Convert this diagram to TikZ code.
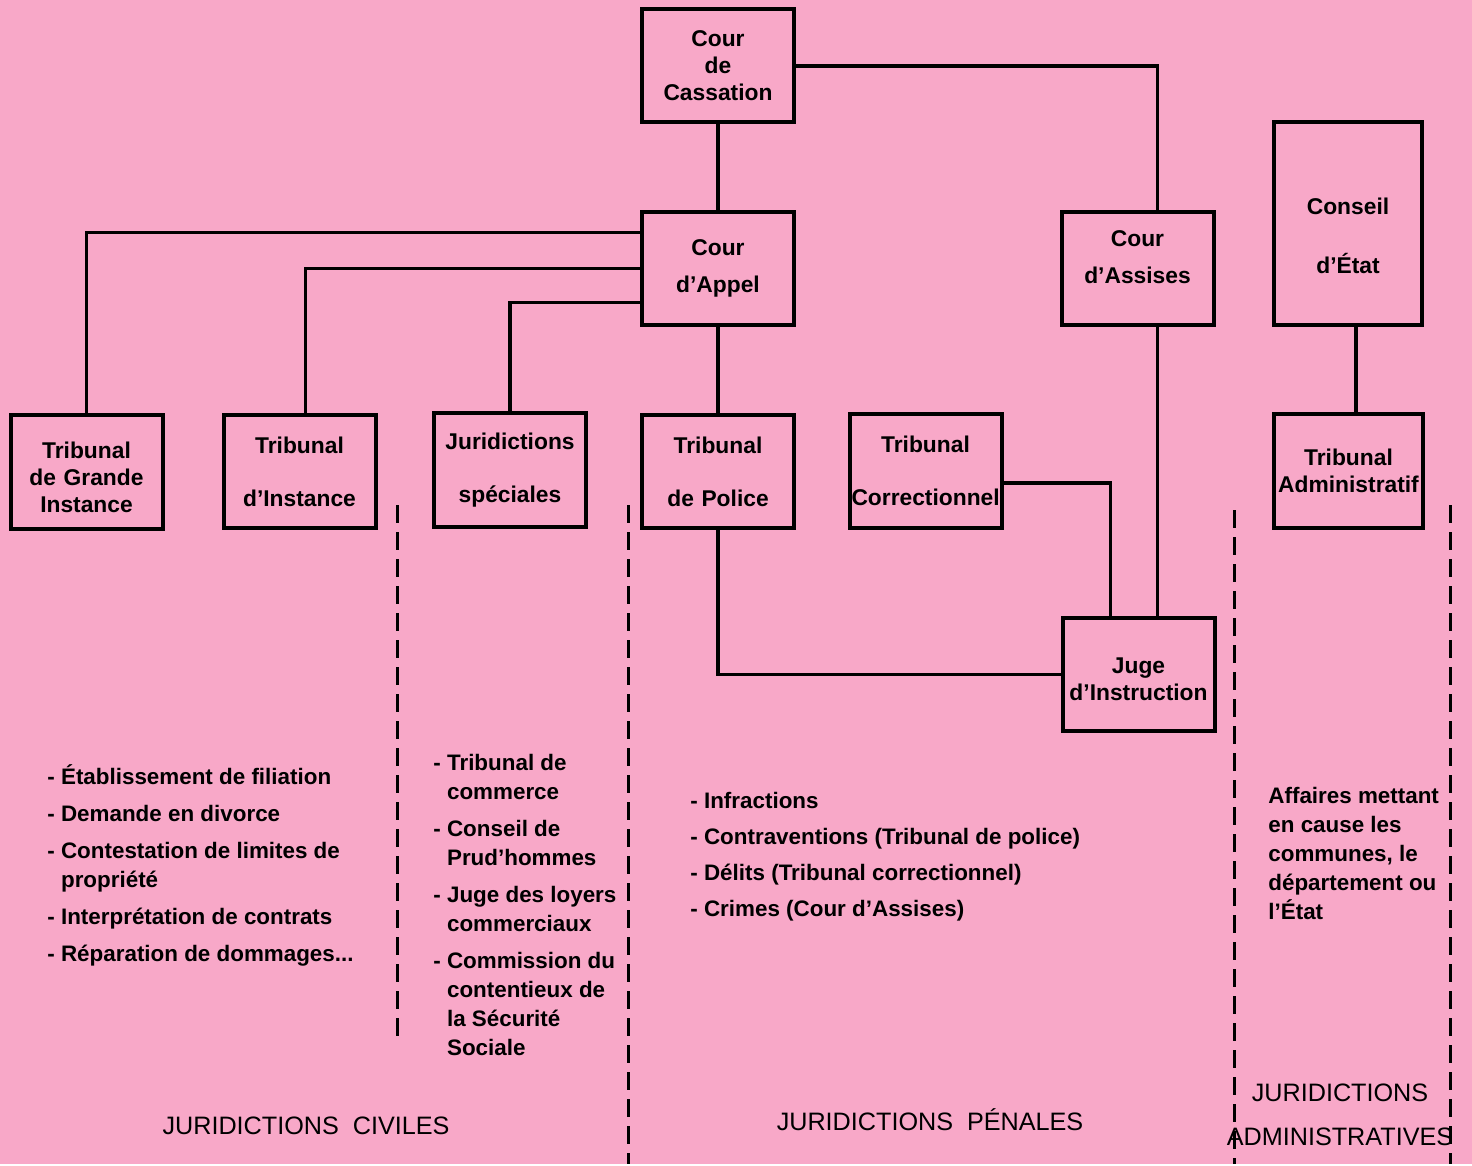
\documentclass[tikz,border=0pt]{standalone}
\usepackage{fontspec}
\setmainfont{Liberation Sans}
\usepackage{tikz}
\usetikzlibrary{positioning}
\definecolor{pinkpaper}{RGB}{248,168,200}
\tikzstyle{court} = [rectangle, draw=black, line width=2pt, minimum height=56.5pt, text width=74pt, inner xsep=1pt, inner ysep=0pt, align=center, font=\bfseries\fontsize{11.4}{13.5}\selectfont]
\tikzstyle{link} = [line width=1.8pt, draw=black]
\tikzstyle{border} = [line width=1.5pt, dash pattern=on 9pt off 4.5pt]
\tikzstyle{caselist} = [anchor=north west, align=left, inner sep=0pt, font=\bfseries\fontsize{11.2}{14.5}\selectfont]
\tikzstyle{heading} = [align=center, inner sep=0pt, font=\fontsize{12.6}{14}\selectfont]

\begin{document}
\begin{tikzpicture}[x=0.5pt, y=-0.5pt]

\fill[pinkpaper] (0,0) rectangle (1472,1164);

\node[court] (cassation) at (718,66) {Cour\\de\\Cassation};
\node[court] (appel) at (718,268.5) {Cour\\[5pt]d’Appel};
\node[court] (assises) at (1137.5,269) {Cour\\[5pt]d’Assises\rule[-12pt]{0pt}{12pt}};
\node[court, minimum height=101.5pt, text width=72pt] (conseil) at (1348,223.5) {\rule{0pt}{21pt}Conseil\\[16pt]d’État};

\node[court] (tgi) at (86.5,472) {\rule{0pt}{14pt}Tribunal\\de Grande\\Instance};
\node[court] (ti) at (299.5,471.5) {Tribunal\\[13pt]d’Instance};
\node[court] (speciales) at (510,470) {Juridictions\\[13pt]spéciales};
\node[court] (police) at (718,471.5) {Tribunal\\[13pt]de Police};
\node[court] (correctionnel) at (925.5,471) {Tribunal\\[13pt]Correctionnel};
\node[court, text width=72.5pt] (administratif) at (1348.5,471) {Tribunal\\Administratif};
\node[court] (juge) at (1138.5,674.5) {\rule{0pt}{13pt}Juge\\d’Instruction};

\draw[link] (cassation) -- (appel);
\draw[link] (cassation.east) -| ([xshift=10pt]assises.north);
\draw[link] ([yshift=18pt]appel.west) -| (tgi.north);
\draw[link] (appel.west) -| ([xshift=3pt]ti.north);
\draw[link] ([yshift=-17pt]appel.west) -| (speciales.north);
\draw[link] (appel) -- (police);
\draw[link] ([xshift=10pt]assises.south) -- ([xshift=10pt]assises.south |- juge.north);
\draw[link] ([yshift=-6pt]correctionnel.east) -| ([xshift=-14pt]juge.north);
\draw[link] (police.south) |- (juge.west);
\draw[link] ([xshift=4pt]conseil.south) -- ([xshift=4pt]conseil.south |- administratif.north);

\draw[border] (397,505) -- (397,1045);
\draw[border] (628,505) -- (628,1164);
\draw[border] (1234,510) -- (1234,1164);
\draw[border] (1450,505) -- (1450,1164);

\node[caselist] (civillist) at (47,764) {- Établissement de filiation\\[4pt]- Demande en divorce\\[4pt]- Contestation de limites de\\\phantom{- }propriété\\[4pt]- Interprétation de contrats\\[4pt]- Réparation de dommages...};
\node[caselist] (speciallist) at (433,754) {- Tribunal de\\\phantom{- }commerce\\[4pt]- Conseil de\\\phantom{- }Prud’hommes\\[4pt]- Juge des loyers\\\phantom{- }commerciaux\\[4pt]- Commission du\\\phantom{- }contentieux de\\\phantom{- }la Sécurité\\\phantom{- }Sociale};
\node[caselist] (penallist) at (690,792) {- Infractions\\[3.5pt]- Contraventions (Tribunal de police)\\[3.5pt]- Délits (Tribunal correctionnel)\\[3.5pt]- Crimes (Cour d’Assises)};
\node[caselist] (adminlist) at (1268,787) {Affaires mettant\\en cause les\\communes, le\\département ou\\l’État};

\node[heading] (civiles) at (306,1126) {JURIDICTIONS\hspace{0.55em}CIVILES};
\node[heading] (penales) at (930,1120) {JURIDICTIONS\hspace{0.55em}PÉNALES};
\node[heading] (administratives) at (1340,1115) {JURIDICTIONS\\[8pt]ADMINISTRATIVES};

\end{tikzpicture}
\end{document}
